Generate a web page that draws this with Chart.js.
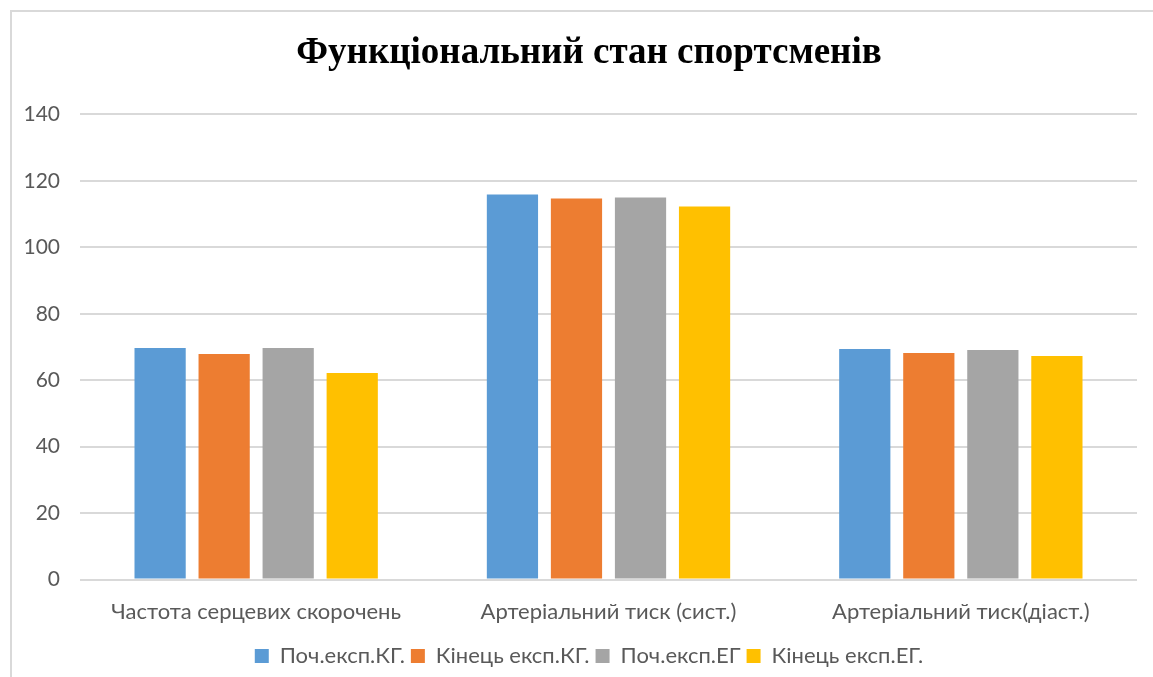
<!DOCTYPE html>
<html><head><meta charset="utf-8">
<script src="https://cdn.jsdelivr.net/npm/chart.js@4/dist/chart.umd.min.js"></script>
<style>html,body{margin:0;padding:0;background:#fff;overflow:hidden}#wrap{width:1153px;height:677px;position:relative}</style>
</head><body><div id="wrap"><canvas id="c" width="1153" height="677"></canvas></div>
<script>
const categories = ["Частота серцевих скорочень", "Артеріальний тиск (сист.)", "Артеріальний тиск(діаст.)"];
const seriesNames = ["Поч.експ.КГ.", "Кінець експ.КГ.", "Поч.експ.ЕГ", "Кінець експ.ЕГ."];
const pochKG = [69.7, 115.9, 69.4];
const kinKG = [67.9, 114.7, 68.2];
const pochEG = [69.7, 115.0, 69.1];
const kinEG = [62.2, 112.3, 67.3];
const yTicks = [0, 20, 40, 60, 80, 100, 120, 140];
const colors = ["#5B9BD5", "#ED7D31", "#A5A5A5", "#FFC000"];
const values = [pochKG, kinKG, pochEG, kinEG];

const frame = {
  id: 'frame',
  afterDraw(chart) {
    const ctx = chart.ctx;
    ctx.save();
    ctx.strokeStyle = '#D9D9D9';
    ctx.lineWidth = 2;
    ctx.strokeRect(11, 11, 1200, 700);
    ctx.restore();
  }
};

new Chart(document.getElementById('c'), {
  type: 'bar',
  data: {
    labels: categories,
    datasets: seriesNames.map((n, i) => ({
      label: n, data: values[i], backgroundColor: colors[i],
      categoryPercentage: 0.727, barPercentage: 0.8
    }))
  },
  options: {
    responsive: false, animation: false,
    layout: { padding: { left: 12, right: -13, top: 31, bottom: 0 } },
    plugins: {
      title: { display: true, text: "Функціональний стан спортсменів",
        font: { family: "'Liberation Serif', 'Times New Roman', serif", size: 37, weight: 'bold' },
        color: '#000', padding: { top: 0, bottom: 39 } },
      legend: { position: 'bottom',
        labels: { boxWidth: 14, boxHeight: 14, color: '#595959', padding: 6,
          font: { family: "Lato, 'Open Sans', sans-serif", size: 22 } } },
      tooltip: { enabled: false }
    },
    scales: {
      x: {
        afterFit(s) { s.height += 3; },
        grid: { display: false }, border: { display: false },
        ticks: { color: '#595959', padding: 11, font: { family: "Lato, 'Open Sans', sans-serif", size: 22 } }
      },
      y: {
        min: 0, max: 140,
        afterBuildTicks(s) { s.ticks = yTicks.map(v => ({ value: v })); },
        afterFit(s) { s.width = 68; },
        grid: { color: '#D9D9D9', lineWidth: 2, drawTicks: false },
        border: { display: false },
        ticks: { color: '#595959', padding: 20, font: { family: "Lato, 'Open Sans', sans-serif", size: 21 } }
      },
      yRight: {
        position: 'right', min: 0, max: 140,
        afterFit(s) { s.width = 29; },
        grid: { display: false }, border: { display: false },
        ticks: { display: false }
      }
    }
  },
  plugins: [frame]
});
</script></body></html>
